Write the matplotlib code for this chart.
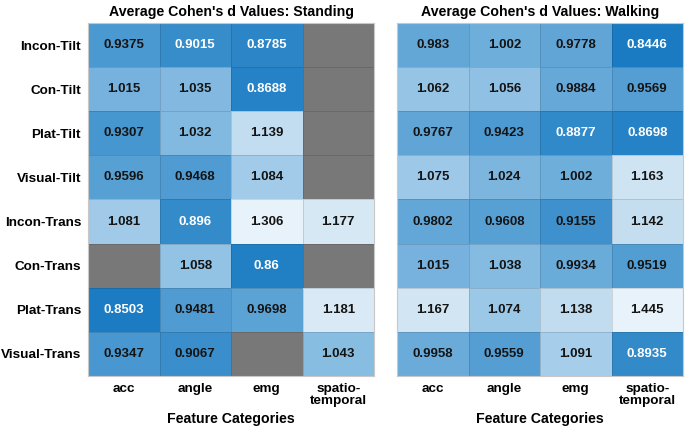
import numpy as np
import matplotlib
matplotlib.use('Agg')
import matplotlib.pyplot as plt
from matplotlib.colors import LinearSegmentedColormap, Normalize

plt.rcParams['font.family'] = ['Liberation Sans', 'DejaVu Sans']
plt.rcParams['font.weight'] = 'bold'

conditions = ["Incon-Tilt", "Con-Tilt", "Plat-Tilt", "Visual-Tilt",
              "Incon-Trans", "Con-Trans", "Plat-Trans", "Visual-Trans"]
features = ["acc", "angle", "emg", "spatio-\ntemporal"]

nan = np.nan
standing = [
    [0.9375, 0.9015, 0.8785, nan],
    [1.015, 1.035, 0.8688, nan],
    [0.9307, 1.032, 1.139, nan],
    [0.9596, 0.9468, 1.084, nan],
    [1.081, 0.896, 1.306, 1.177],
    [nan, 1.058, 0.86, nan],
    [0.8503, 0.9481, 0.9698, 1.181],
    [0.9347, 0.9067, nan, 1.043],
]
walking = [
    [0.983, 1.002, 0.9778, 0.8446],
    [1.062, 1.056, 0.9884, 0.9569],
    [0.9767, 0.9423, 0.8877, 0.8698],
    [1.075, 1.024, 1.002, 1.163],
    [0.9802, 0.9608, 0.9155, 1.142],
    [1.015, 1.038, 0.9934, 0.9519],
    [1.167, 1.074, 1.138, 1.445],
    [0.9958, 0.9559, 1.091, 0.8935],
]

# shared colour scale, saturating at the light end
vmin, vmax = 0.845, 1.30
stops = [(0.845, '#1a7bc2'), (0.93, '#4696cf'), (1.0, '#6dadda'),
         (1.08, '#a0cae8'), (1.18, '#d9e9f5'), (1.30, '#e8f2fa')]
cmap = LinearSegmentedColormap.from_list(
    'blues', [((v - vmin) / (vmax - vmin), c) for v, c in stops])
cmap.set_bad('#787878')
norm = Normalize(vmin=vmin, vmax=vmax, clip=True)

fig = plt.figure(figsize=(6.85, 4.26), dpi=100)
ax1 = fig.add_axes([0.1285, 0.1174, 0.4175, 0.8286])
ax2 = fig.add_axes([0.5796, 0.1174, 0.4175, 0.8286])


def draw(ax, data, title):
    arr = np.ma.masked_invalid(np.array(data, dtype=float))
    ax.pcolormesh(arr, cmap=cmap, norm=norm,
                  edgecolors=(0, 0, 0, 0.12), linewidth=0.6)
    ax.set_xlim(0, len(features))
    ax.set_ylim(len(conditions), 0)
    for i in range(len(conditions)):
        for j in range(len(features)):
            v = data[i][j]
            if np.isnan(v):
                continue
            col = 'white' if v < 0.904 else '#141414'
            ax.text(j + 0.5, i + 0.5, f"{v:.4g}", ha='center', va='center',
                    fontsize=9.5, fontweight='bold', color=col)
    ax.set_xticks(np.arange(len(features)) + 0.5)
    ax.set_xticklabels(features, fontsize=9.7, fontweight='bold',
                       linespacing=1.05, va='top')
    ax.set_yticks(np.arange(len(conditions)) + 0.5)
    ax.set_yticklabels(conditions, fontsize=9.7, fontweight='bold')
    ax.tick_params(length=0, pad=5)
    ax.set_xlabel("Feature Categories", fontsize=10.2, fontweight='bold', labelpad=3)
    ax.set_title(title, fontsize=10.2, fontweight='bold', pad=5)
    for s in ax.spines.values():
        s.set_color('#c8c8c8')
        s.set_linewidth(0.8)


draw(ax1, standing, "Average Cohen's d Values: Standing")
draw(ax2, walking, "Average Cohen's d Values: Walking")
ax2.set_yticklabels([])

fig.savefig('out.png', dpi=100)
